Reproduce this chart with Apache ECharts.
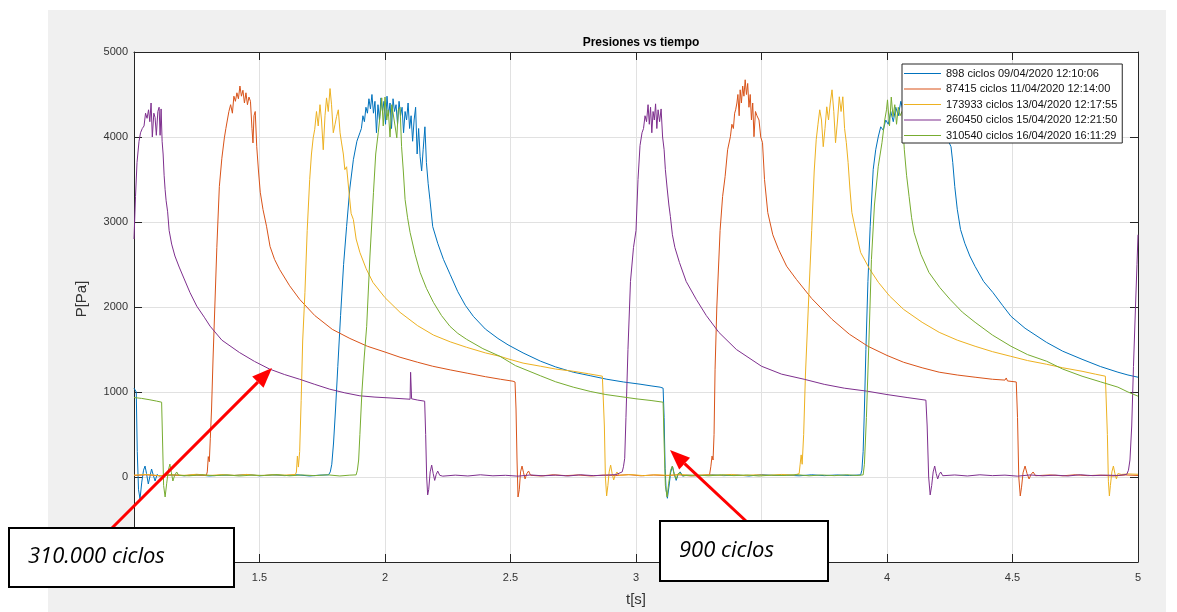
<!DOCTYPE html>
<html><head><meta charset="utf-8">
<script src="https://cdn.jsdelivr.net/npm/echarts@6/dist/echarts.min.js"></script>
<style>html,body{margin:0;padding:0;background:#fff}#c{width:1177px;height:612px}</style>
</head><body><div id="c"></div>
<script>
// ---------- DATA ----------
const seriesNames = [
  '898 ciclos 09/04/2020 12:10:06',
  '87415 ciclos 11/04/2020 12:14:00',
  '173933 ciclos 13/04/2020 12:17:55',
  '260450 ciclos 15/04/2020 12:21:50',
  '310540 ciclos 16/04/2020 16:11:29'
];
const xTicks = [1, 1.5, 2, 2.5, 3, 3.5, 4, 4.5, 5];
const yTicks = [-1000, 0, 1000, 2000, 3000, 4000, 5000];

// [t (s), P (Pa)]
const s898 = [[1.000,1045],[1.005,1032],[1.009,1000],[1.013,300],[1.018,-150],[1.024,-258],[1.031,-60],[1.038,80],[1.044,129],[1.050,40],[1.057,-82],[1.063,0],[1.070,94],[1.077,20],[1.084,-47],[1.092,30],[1.10,12],[1.15,25],[1.20,15],[1.25,28],[1.30,12],[1.35,22],[1.40,18],[1.45,30],[1.50,14],[1.55,24],[1.60,16],[1.65,26],[1.70,12],[1.74,22],[1.775,25],[1.782,60],[1.788,150],[1.795,400],[1.803,800],[1.812,1300],[1.823,1900],[1.835,2500],[1.847,2947],[1.860,3400],[1.874,3733],[1.888,3950],[1.900,4050],[1.906,4100],[1.912,4250],[1.918,4180],[1.924,4350],[1.930,4280],[1.936,4450],[1.942,4330],[1.948,4500],[1.954,4280],[1.960,4420],[1.966,4050],[1.972,4380],[1.978,4200],[1.984,4460],[1.990,4300],[1.996,4420],[2.002,4150],[2.008,4480],[2.014,4250],[2.020,4400],[2.026,4100],[2.032,4450],[2.038,4300],[2.044,4380],[2.050,4150],[2.056,4420],[2.062,4250],[2.068,4350],[2.074,4050],[2.080,4300],[2.086,4200],[2.092,4400],[2.098,4100],[2.104,4250],[2.110,3950],[2.116,4200],[2.122,4350],[2.128,3800],[2.134,4100],[2.140,3768],[2.146,3600],[2.152,3850],[2.159,4120],[2.165,3700],[2.172,3450],[2.179,3264],[2.190,2947],[2.21,2750],[2.233,2560],[2.26,2380],[2.29,2180],[2.32,2020],[2.352,1890],[2.40,1740],[2.45,1630],[2.49,1555],[2.55,1460],[2.62,1362],[2.68,1295],[2.75,1233],[2.82,1190],[2.884,1150],[2.95,1118],[3.016,1092],[3.06,1072],[3.096,1057],[3.108,1045],[3.112,700],[3.116,100],[3.120,-150],[3.125,-250],[3.131,-120],[3.138,50],[3.145,129],[3.152,40],[3.160,-40],[3.168,30],[3.176,60],[3.186,10],[3.20,22],[3.25,14],[3.30,26],[3.35,16],[3.40,24],[3.45,12],[3.50,28],[3.55,18],[3.60,22],[3.65,14],[3.70,26],[3.75,16],[3.80,24],[3.85,18],[3.895,25],[3.900,80],[3.905,300],[3.910,800],[3.916,1500],[3.924,2300],[3.933,2947],[3.945,3616],[3.955,3850],[3.965,4000],[3.975,4120],[3.985,4080],[3.995,4200],[4.005,4150],[4.015,4300],[4.025,4180],[4.035,4350],[4.045,4250],[4.055,4420],[4.065,4300],[4.075,4450],[4.085,4280],[4.095,4380],[4.105,4200],[4.115,4400],[4.125,4250],[4.135,4350],[4.145,4150],[4.155,4300],[4.165,4200],[4.175,4350],[4.185,4100],[4.195,4250],[4.205,4150],[4.215,4050],[4.225,4200],[4.235,4000],[4.245,3950],[4.255,3886],[4.262,3700],[4.270,3416],[4.280,3150],[4.293,2911],[4.31,2750],[4.33,2600],[4.351,2477],[4.385,2300],[4.422,2170],[4.46,2020],[4.494,1890],[4.55,1750],[4.635,1585],[4.70,1480],[4.777,1385],[4.85,1300],[4.92,1233],[4.96,1200],[5.0,1174]];

const s87415 = [[1.00,18],[1.05,26],[1.10,14],[1.15,24],[1.20,16],[1.25,22],[1.288,20],[1.292,60],[1.296,240],[1.300,180],[1.304,450],[1.309,800],[1.315,1400],[1.322,2000],[1.330,2700],[1.340,3416],[1.350,3750],[1.360,3990],[1.366,4100],[1.372,4200],[1.378,4300],[1.385,4380],[1.392,4280],[1.398,4480],[1.404,4420],[1.410,4520],[1.416,4450],[1.422,4600],[1.428,4480],[1.434,4550],[1.440,4400],[1.446,4520],[1.452,4380],[1.458,4470],[1.464,4420],[1.470,4100],[1.474,3930],[1.478,4250],[1.483,4300],[1.489,3886],[1.496,3600],[1.503,3350],[1.514,3146],[1.528,2950],[1.542,2712],[1.56,2560],[1.58,2442],[1.62,2250],[1.66,2090],[1.72,1900],[1.79,1737],[1.86,1630],[1.93,1538],[2.00,1470],[2.06,1409],[2.13,1350],[2.19,1303],[2.26,1260],[2.33,1220],[2.40,1180],[2.46,1150],[2.51,1127],[2.518,1118],[2.522,800],[2.526,200],[2.530,-235],[2.535,-150],[2.540,60],[2.546,129],[2.552,50],[2.558,-23],[2.565,40],[2.572,70],[2.580,20],[2.62,12],[2.67,26],[2.72,16],[2.77,24],[2.82,12],[2.87,22],[2.92,18],[2.97,28],[3.02,14],[3.07,24],[3.12,16],[3.17,26],[3.22,12],[3.27,22],[3.293,25],[3.298,120],[3.303,246],[3.307,200],[3.311,500],[3.315,1268],[3.322,2000],[3.335,2900],[3.345,3300],[3.355,3534],[3.365,3850],[3.376,4003],[3.382,4150],[3.388,4100],[3.393,4280],[3.397,4320],[3.402,4400],[3.406,4500],[3.411,4250],[3.415,4555],[3.420,4400],[3.425,4600],[3.430,4480],[3.435,4673],[3.440,4500],[3.445,4630],[3.450,4350],[3.455,4500],[3.460,4200],[3.465,4400],[3.470,4003],[3.476,4300],[3.482,4250],[3.490,4200],[3.497,4000],[3.504,3933],[3.512,3500],[3.525,3111],[3.545,2850],[3.568,2677],[3.60,2480],[3.639,2325],[3.70,2100],[3.781,1855],[3.85,1680],[3.924,1538],[4.00,1430],[4.066,1350],[4.14,1285],[4.208,1233],[4.28,1200],[4.351,1174],[4.42,1150],[4.470,1140],[4.475,1165],[4.480,1130],[4.515,1118],[4.520,700],[4.525,0],[4.531,-223],[4.536,-120],[4.542,50],[4.550,129],[4.558,40],[4.566,-23],[4.574,30],[4.582,59],[4.592,15],[4.65,24],[4.70,14],[4.75,26],[4.80,16],[4.85,22],[4.90,12],[4.95,24],[5.00,18]];

const s173933 = [[1.00,22],[1.05,30],[1.10,16],[1.15,26],[1.20,20],[1.25,32],[1.30,18],[1.35,28],[1.40,20],[1.45,30],[1.50,16],[1.55,26],[1.60,22],[1.643,30],[1.647,59],[1.651,246],[1.655,117],[1.660,300],[1.666,900],[1.672,1600],[1.681,2170],[1.690,2900],[1.700,3500],[1.707,3800],[1.714,3991],[1.720,4090],[1.727,4300],[1.734,4130],[1.741,4380],[1.747,4200],[1.754,3850],[1.761,4250],[1.767,4460],[1.774,4300],[1.781,4570],[1.787,4380],[1.794,4050],[1.801,4150],[1.807,4240],[1.814,4320],[1.821,4050],[1.827,3930],[1.834,3800],[1.840,3616],[1.847,3650],[1.855,3400],[1.865,3100],[1.874,3029],[1.885,2800],[1.900,2641],[1.925,2450],[1.952,2289],[2.00,2110],[2.06,1937],[2.13,1780],[2.193,1670],[2.26,1590],[2.325,1526],[2.40,1460],[2.458,1420],[2.49,1390],[2.55,1340],[2.62,1303],[2.68,1270],[2.75,1244],[2.81,1215],[2.866,1186],[2.870,1180],[2.874,600],[2.878,0],[2.883,-223],[2.888,-100],[2.893,60],[2.899,140],[2.905,40],[2.911,-35],[2.917,20],[2.924,59],[2.932,20],[2.98,28],[3.03,16],[3.08,26],[3.13,20],[3.18,30],[3.23,16],[3.28,26],[3.33,20],[3.38,30],[3.43,18],[3.48,26],[3.53,20],[3.58,30],[3.63,22],[3.650,40],[3.654,150],[3.658,260],[3.662,150],[3.668,500],[3.675,1200],[3.689,2170],[3.700,2900],[3.710,3600],[3.718,3968],[3.725,4150],[3.732,4320],[3.739,4200],[3.746,3886],[3.753,4100],[3.760,4355],[3.767,4200],[3.774,4400],[3.781,4555],[3.788,4300],[3.795,3933],[3.803,4200],[3.810,4473],[3.817,4300],[3.824,4473],[3.831,4100],[3.838,3933],[3.845,3700],[3.852,3400],[3.860,3111],[3.875,2900],[3.895,2641],[3.93,2450],[3.966,2289],[4.01,2130],[4.066,1972],[4.14,1820],[4.208,1702],[4.28,1610],[4.351,1538],[4.42,1475],[4.493,1420],[4.56,1370],[4.635,1327],[4.70,1285],[4.777,1244],[4.83,1210],[4.870,1186],[4.874,1180],[4.878,500],[4.882,-50],[4.886,-223],[4.890,-100],[4.896,60],[4.902,129],[4.908,40],[4.914,-23],[4.920,40],[4.926,59],[4.934,30],[4.96,36],[5.00,32]];

const s260450 = [[1.000,2800],[1.006,3300],[1.012,3700],[1.020,3950],[1.026,4050],[1.033,4100],[1.040,4130],[1.046,4280],[1.052,4220],[1.058,4320],[1.063,4180],[1.068,4400],[1.073,4000],[1.079,4280],[1.084,4230],[1.089,4020],[1.095,4300],[1.100,4350],[1.104,4020],[1.108,4330],[1.112,3950],[1.116,3800],[1.120,3550],[1.124,3380],[1.128,3250],[1.134,3120],[1.140,2900],[1.150,2740],[1.163,2600],[1.180,2470],[1.200,2330],[1.223,2170],[1.25,2010],[1.28,1880],[1.303,1775],[1.35,1610],[1.42,1465],[1.48,1360],[1.54,1270],[1.60,1205],[1.66,1150],[1.72,1090],[1.78,1033],[1.84,990],[1.90,955],[1.96,940],[2.02,930],[2.10,915],[2.102,1232],[2.106,920],[2.13,905],[2.158,892],[2.162,500],[2.166,0],[2.170,-211],[2.174,-150],[2.180,60],[2.186,140],[2.192,40],[2.198,-40],[2.204,30],[2.210,70],[2.218,20],[2.23,10],[2.28,22],[2.33,12],[2.38,26],[2.43,14],[2.48,20],[2.53,10],[2.58,24],[2.63,14],[2.68,22],[2.73,12],[2.78,26],[2.83,16],[2.88,22],[2.92,28],[2.945,60],[2.950,120],[2.955,220],[2.960,700],[2.968,1500],[2.978,2300],[2.990,2700],[3.000,2900],[3.008,3500],[3.016,3900],[3.024,4050],[3.030,4100],[3.036,4250],[3.042,4180],[3.048,4380],[3.053,4150],[3.058,4350],[3.063,4050],[3.068,4300],[3.073,4200],[3.078,4390],[3.083,4100],[3.088,4320],[3.094,4180],[3.100,4330],[3.106,4000],[3.112,3850],[3.117,3616],[3.124,3400],[3.131,3200],[3.137,3064],[3.145,2850],[3.155,2700],[3.173,2524],[3.20,2300],[3.24,2090],[3.28,1900],[3.33,1702],[3.40,1500],[3.50,1303],[3.58,1210],[3.67,1150],[3.75,1090],[3.83,1045],[3.92,1010],[4.00,970],[4.08,935],[4.155,904],[4.160,600],[4.166,0],[4.172,-211],[4.178,-100],[4.184,60],[4.190,129],[4.196,40],[4.202,-23],[4.208,30],[4.214,59],[4.222,15],[4.27,24],[4.32,12],[4.37,26],[4.42,16],[4.47,22],[4.52,10],[4.57,24],[4.62,14],[4.67,22],[4.72,12],[4.77,26],[4.82,16],[4.87,22],[4.92,18],[4.955,30],[4.962,80],[4.968,200],[4.975,600],[4.982,1300],[4.990,2000],[4.996,2500],[5.0,2850]];

const s310540 = [[1.000,935],[1.03,925],[1.06,910],[1.09,893],[1.110,880],[1.114,400],[1.118,-100],[1.124,-235],[1.130,-80],[1.137,80],[1.143,152],[1.149,50],[1.155,-47],[1.162,20],[1.170,59],[1.178,20],[1.22,14],[1.27,26],[1.32,16],[1.37,24],[1.42,12],[1.47,22],[1.52,18],[1.57,28],[1.62,14],[1.67,24],[1.72,16],[1.77,26],[1.82,12],[1.86,22],[1.885,25],[1.890,80],[1.895,200],[1.900,500],[1.908,1000],[1.917,1400],[1.927,1772],[1.940,2600],[1.954,3345],[1.963,3800],[1.973,4050],[1.980,4240],[1.987,4460],[1.993,4130],[2.000,4470],[2.007,4200],[2.013,4320],[2.020,4000],[2.027,4380],[2.033,4402],[2.040,4130],[2.047,3990],[2.053,4320],[2.060,4350],[2.066,3886],[2.073,3600],[2.080,3264],[2.090,3050],[2.100,2876],[2.120,2620],[2.140,2407],[2.165,2220],[2.193,2054],[2.225,1900],[2.259,1772],[2.290,1690],[2.325,1620],[2.39,1510],[2.458,1420],[2.52,1310],[2.62,1190],[2.68,1120],[2.75,1057],[2.82,1005],[2.88,970],[2.94,945],[3.00,920],[3.06,900],[3.108,880],[3.112,400],[3.117,-100],[3.124,-235],[3.130,-80],[3.138,80],[3.145,129],[3.152,30],[3.160,-23],[3.168,40],[3.176,50],[3.186,15],[3.24,24],[3.29,14],[3.34,26],[3.39,16],[3.44,24],[3.49,12],[3.54,22],[3.59,18],[3.64,28],[3.69,14],[3.74,24],[3.79,16],[3.84,26],[3.88,18],[3.905,25],[3.910,150],[3.918,700],[3.928,1600],[3.938,2560],[3.950,3200],[3.965,3650],[3.980,3933],[3.991,4200],[3.998,4320],[4.002,4437],[4.010,4130],[4.017,4470],[4.024,4240],[4.031,4380],[4.038,4150],[4.045,4350],[4.052,4250],[4.060,4300],[4.066,4000],[4.069,3850],[4.078,3550],[4.088,3300],[4.098,3050],[4.108,2876],[4.135,2620],[4.167,2407],[4.21,2230],[4.251,2090],[4.30,1940],[4.351,1820],[4.42,1670],[4.494,1538],[4.56,1440],[4.636,1362],[4.70,1270],[4.777,1186],[4.85,1120],[4.920,1057],[4.96,1000],[5.00,951]];

const seriesData = [s898, s87415, s173933, s260450, s310540];

// ---------- STYLE ----------
const colors = ['#0072BD', '#D95319', '#EDB120', '#7E2F8E', '#77AC30'];
const font = '"Liberation Sans", Arial, Helvetica, sans-serif';
const axisColor = '#262626';
const gridColor = '#e1e1e1';

const chart = echarts.init(document.getElementById('c'), null, {renderer: 'canvas', width: 1177, height: 612});

function baseAxis(extra) {
  return Object.assign({
    type: 'value',
    axisLine: {show: true, onZero: false, lineStyle: {color: axisColor, width: 1}},
    axisTick: {show: true, inside: true, length: 8, lineStyle: {color: axisColor, width: 1}},
    axisLabel: {show: false},
    splitLine: {show: false}
  }, extra);
}

const xMin = xTicks[0], xMax = xTicks[xTicks.length - 1], xInt = xTicks[1] - xTicks[0];
const yMin = yTicks[0], yMax = yTicks[yTicks.length - 1], yInt = yTicks[1] - yTicks[0];

function arrow(tail, tip) {
  const dx = tip[0] - tail[0], dy = tip[1] - tail[1];
  const len = Math.hypot(dx, dy), ux = dx / len, uy = dy / len;
  const hl = 20, hw = 8;
  const bx = tip[0] - hl * ux, by = tip[1] - hl * uy;
  const px = -uy, py = ux;
  return [
    {type: 'line', z: 110, silent: true, shape: {x1: tail[0], y1: tail[1], x2: bx, y2: by}, style: {stroke: '#ff0000', lineWidth: 3}},
    {type: 'polygon', z: 110, silent: true, shape: {points: [[tip[0], tip[1]], [bx + hw * px, by + hw * py], [bx - hw * px, by - hw * py]]}, style: {fill: '#ff0000'}}
  ];
}

const option = {
  animation: false,
  backgroundColor: '#ffffff',
  color: colors,
  title: {
    text: 'Presiones vs tiempo', left: 636, top: 32, textAlign: 'center',
    textStyle: {fontFamily: font, fontSize: 12, fontWeight: 'bold', color: '#000'}
  },
  grid: {left: 134, top: 52, right: 39, bottom: 50, show: true, backgroundColor: '#ffffff', borderWidth: 0},
  legend: {
    orient: 'vertical', left: 902, top: 64, padding: [4, 5, 2, 2],
    icon: 'rect', itemWidth: 37, itemHeight: 1, itemGap: 4.5, itemTextGap: 4,
    backgroundColor: '#ffffff', borderColor: axisColor, borderWidth: 1, borderRadius: 0,
    selectedMode: false,
    textStyle: {fontFamily: font, fontSize: 11, color: '#111'},
    data: seriesNames
  },
  xAxis: [
    baseAxis({
      position: 'bottom', min: xMin, max: xMax, interval: xInt,
      name: 't[s]', nameLocation: 'middle', nameGap: 30,
      nameTextStyle: {fontFamily: font, fontSize: 15, color: '#333'},
      axisLabel: {show: true, fontFamily: font, fontSize: 11, color: '#333', margin: 10, formatter: v => String(v)},
      splitLine: {show: true, lineStyle: {color: gridColor, width: 1}}
    }),
    baseAxis({position: 'top', min: xMin, max: xMax, interval: xInt})
  ],
  yAxis: [
    baseAxis({
      position: 'left', min: yMin, max: yMax, interval: yInt,
      name: 'P[Pa]', nameLocation: 'middle', nameGap: 22, nameRotate: 90,
      nameTextStyle: {fontFamily: font, fontSize: 15, color: '#333', padding: [0, 0, 0, 16]},
      axisLabel: {show: true, fontFamily: font, fontSize: 11, color: '#333', margin: 6, formatter: v => String(v)},
      splitLine: {show: true, lineStyle: {color: gridColor, width: 1}}
    }),
    baseAxis({position: 'right', min: yMin, max: yMax, interval: yInt})
  ],
  series: seriesNames.map((name, i) => ({
    name: name, type: 'line', xAxisIndex: 0, yAxisIndex: 0,
    data: seriesData[i], symbol: 'none', showSymbol: false,
    lineStyle: {width: 1, color: colors[i]}, itemStyle: {color: colors[i]},
    emphasis: {disabled: true}, silent: true
  })),
  graphic: [
    {type: 'rect', z: -100, silent: true, shape: {x: 48, y: 10, width: 1118, height: 602}, style: {fill: '#f0f0f0'}},
    ...arrow([112, 528], [272, 368]),
    ...arrow([746, 521], [670, 450]),
    {type: 'rect', z: 120, silent: true, shape: {x: 9, y: 528, width: 225, height: 59}, style: {fill: '#ffffff', stroke: '#000', lineWidth: 2}},
    {type: 'text', z: 121, silent: true, style: {text: '310.000 ciclos', x: 28, y: 557, font: 'italic 22px "Open Sans", sans-serif', fill: '#000', verticalAlign: 'middle', textVerticalAlign: 'middle'}},
    {type: 'rect', z: 120, silent: true, shape: {x: 660, y: 521, width: 168, height: 60}, style: {fill: '#ffffff', stroke: '#000', lineWidth: 2}},
    {type: 'text', z: 121, silent: true, style: {text: '900 ciclos', x: 679, y: 551, font: 'italic 22px "Open Sans", sans-serif', fill: '#000', verticalAlign: 'middle', textVerticalAlign: 'middle'}}
  ]
};
chart.setOption(option);
</script>
</body></html>
